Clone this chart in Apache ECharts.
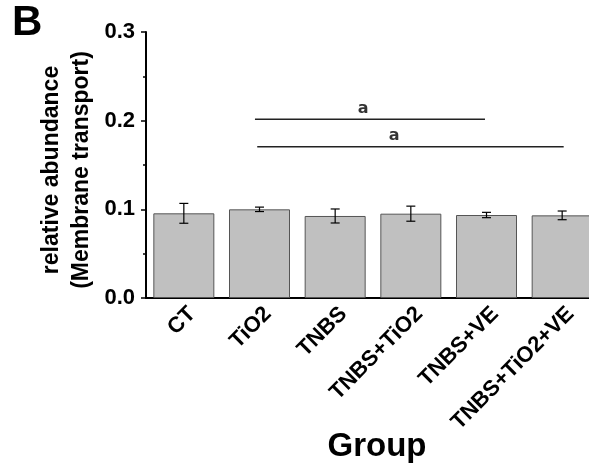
<!DOCTYPE html>
<html>
<head>
<meta charset="utf-8">
<script src="https://cdn.jsdelivr.net/npm/echarts@6/dist/echarts.min.js"></script>
<style>html,body{margin:0;padding:0;background:#fff;overflow:hidden}#c{width:600px;height:468px}</style>
</head>
<body>
<div id="c"></div>
<script>
var categories = ['CT', 'TiO2', 'TNBS', 'TNBS+TiO2', 'TNBS+VE', 'TNBS+TiO2+VE'];
var means = [0.0955, 0.1000, 0.0925, 0.0951, 0.0936, 0.0932];
var errors = [0.0112, 0.0025, 0.0079, 0.0085, 0.0030, 0.0049];
var yTicks = [0, 0.1, 0.2, 0.3];
// significance brackets: [x, y] end points in category-index units
var bracket1 = [[0.94, 0.2015], [3.98, 0.2015]];
var bracket2 = [[0.97, 0.1706], [5.02, 0.1706]];
var sigLabels = [[2.37, 0.2131, 'a'], [2.78, 0.1827, 'a']];

var FONT = "'Liberation Sans', Arial, sans-serif";
var chart = echarts.init(document.getElementById('c'), null, {renderer: 'canvas'});

var errData = categories.map(function (c, i) { return [i, means[i] - errors[i], means[i] + errors[i]]; });

chart.setOption({
  animation: false,
  backgroundColor: '#fff',
  grid: {left: 146, top: 32, right: 0, height: 266, containLabel: false},
  xAxis: [{
    type: 'category',
    data: categories,
    boundaryGap: true,
    axisLine: {lineStyle: {color: '#000', width: 2}},
    axisTick: {alignWithLabel: true, length: 5, lineStyle: {color: '#000', width: 1.5}},
    axisLabel: {rotate: 45, color: '#000', fontWeight: 'bold', fontSize: 22, fontFamily: FONT, margin: 21,
      padding: [0, -12, 0, 0], interval: 0},
    splitLine: {show: false}
  }, {
    type: 'value', min: -0.5, max: 5.5, show: false,
    axisLine: {show: false}, axisTick: {show: false}, axisLabel: {show: false}, splitLine: {show: false}
  }],
  yAxis: {
    type: 'value', min: yTicks[0], max: yTicks[yTicks.length - 1], interval: 0.1,
    axisLine: {show: true, onZero: false, lineStyle: {color: '#000', width: 2}},
    axisTick: {show: true, length: 5, lineStyle: {color: '#000', width: 1.5}},
    minorTick: {show: true, splitNumber: 2, length: 3, lineStyle: {color: '#000', width: 1.5}},
    axisLabel: {color: '#000', fontWeight: 'bold', fontSize: 22, fontFamily: FONT, margin: 11,
      formatter: function (v) { return v.toFixed(1); }},
    splitLine: {show: false}
  },
  graphic: [
    {type: 'text', x: 12, y: 2, style: {text: 'B', fontSize: 42, fontWeight: 'bold', fontFamily: FONT, fill: '#000'}},
    {type: 'text', x: 67, y: 170, rotation: Math.PI / 2,
      style: {text: 'relative abundance\n(Membrane transport)', fontSize: 23, fontWeight: 'bold', fontFamily: FONT,
        fill: '#000', align: 'center', verticalAlign: 'middle', lineHeight: 30}},
    {type: 'text', x: 377, y: 447, style: {text: 'Group', fontSize: 33, fontWeight: 'bold', fontFamily: FONT,
      fill: '#000', align: 'center', verticalAlign: 'middle'}}
  ],
  series: [
    {
      type: 'bar', data: means, barWidth: 61, xAxisIndex: 0,
      itemStyle: {color: '#c0c0c0', borderColor: '#555', borderWidth: 1}
    },
    {
      type: 'custom', xAxisIndex: 0, data: errData, z: 5,
      renderItem: function (params, api) {
        var x = api.value(0);
        var lo = api.coord([x, api.value(1)]);
        var hi = api.coord([x, api.value(2)]);
        var w = 4.5;
        var st = {stroke: '#000', lineWidth: 1.2};
        return {type: 'group', children: [
          {type: 'line', shape: {x1: lo[0], y1: lo[1], x2: hi[0], y2: hi[1]}, style: st},
          {type: 'line', shape: {x1: lo[0] - w, y1: lo[1], x2: lo[0] + w, y2: lo[1]}, style: st},
          {type: 'line', shape: {x1: hi[0] - w, y1: hi[1], x2: hi[0] + w, y2: hi[1]}, style: st}
        ]};
      }
    },
    {type: 'line', xAxisIndex: 1, data: bracket1, symbol: 'none', lineStyle: {color: '#222', width: 1.5}, z: 6},
    {type: 'line', xAxisIndex: 1, data: bracket2, symbol: 'none', lineStyle: {color: '#222', width: 1.5}, z: 6},
    {
      type: 'scatter', xAxisIndex: 1, symbolSize: 0, z: 7,
      data: sigLabels.map(function (d) { return {value: [d[0], d[1]], name: d[2]}; }),
      label: {show: true, position: 'inside', formatter: '{b}', color: '#000', fontWeight: 'bold', fontSize: 16, fontFamily: "'DejaVu Sans', sans-serif"}
    }
  ]
});
</script>
</body>
</html>
